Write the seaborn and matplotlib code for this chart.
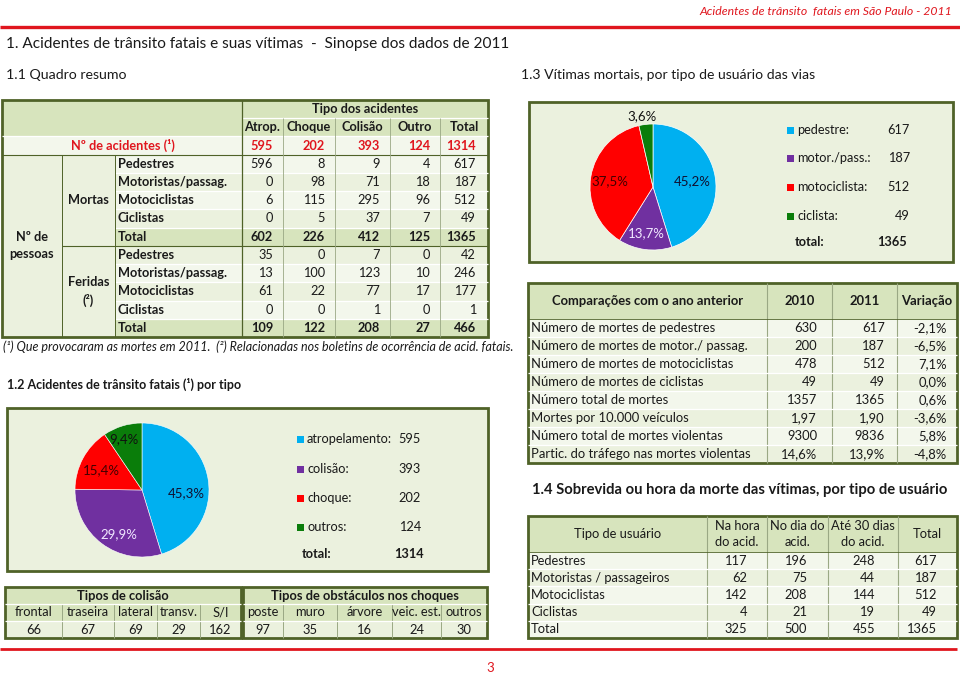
import matplotlib.pyplot as plt
from matplotlib.patches import Rectangle
import seaborn as sns

# ---- 1.1 Quadro resumo ----
tipos_acidente = ['Atrop.', 'Choque', 'Colisão', 'Outro', 'Total']
num_acidentes = [595, 202, 393, 124, 1314]
usuarios_11 = ['Pedestres', 'Motoristas/passag.', 'Motociclistas', 'Ciclistas', 'Total']
mortas = [[596, 8, 9, 4, 617],
          [0, 98, 71, 18, 187],
          [6, 115, 295, 96, 512],
          [0, 5, 37, 7, 49],
          [602, 226, 412, 125, 1365]]
feridas = [[35, 0, 7, 0, 42],
           [13, 100, 123, 10, 246],
           [61, 22, 77, 17, 177],
           [0, 0, 1, 0, 1],
           [109, 122, 208, 27, 466]]

# ---- 1.2 por tipo ----
pie1_labels = ['atropelamento:', 'colisão:', 'choque:', 'outros:']
pie1_values = [595, 393, 202, 124]
colisao_tipos = ['frontal', 'traseira', 'lateral', 'transv.', 'S/I']
colisao_vals = [66, 67, 69, 29, 162]
obstaculos = ['poste', 'muro', 'árvore', 'veic. est.', 'outros']
obstaculos_vals = [97, 35, 16, 24, 30]

# ---- 1.3 vitimas por usuario ----
pie2_labels = ['pedestre:', 'motor./pass.:', 'motociclista:', 'ciclista:']
pie2_values = [617, 187, 512, 49]

comp_labels = ['Número de mortes de pedestres', 'Número de mortes de motor./ passag.',
               'Número de mortes de motociclistas', 'Número de mortes de ciclistas',
               'Número total de mortes', 'Mortes por 10.000 veículos',
               'Número total de mortes violentas', 'Partic. do tráfego nas mortes violentas']
comp_2010 = ['630', '200', '478', '49', '1357', '1,97', '9300', '14,6%']
comp_2011 = ['617', '187', '512', '49', '1365', '1,90', '9836', '13,9%']
comp_var = ['-2,1%', '-6,5%', '7,1%', '0,0%', '0,6%', '-3,6%', '5,8%', '-4,8%']

# ---- 1.4 sobrevida ----
usuarios_14 = ['Pedestres', 'Motoristas / passageiros', 'Motociclistas', 'Ciclistas', 'Total']
sobrevida_cols = ['Na hora\ndo acid.', 'No dia do\nacid.', 'Até 30 dias\ndo acid.', 'Total']
na_hora = [117, 62, 142, 4, 325]
no_dia = [196, 75, 208, 21, 500]
ate_30 = [248, 44, 144, 19, 455]
total_14 = [617, 187, 512, 49, 1365]

pie_colors = sns.color_palette(['#00b0f0', '#7030a0', '#ff0000', '#0a7d0a'])
pie2_colors = [pie_colors[0], pie_colors[1], pie_colors[2], pie_colors[3]]

sns.set_theme(style='white')
plt.rcParams['font.family'] = ['Lato', 'DejaVu Sans']

W, H = 960, 674
fig = plt.figure(figsize=(W / 100, H / 100), dpi=100)
ax = fig.add_axes([0, 0, 1, 1])
ax.set_xlim(0, W)
ax.set_ylim(H, 0)
ax.axis('off')

OLIVE = '#4f6228'
HEAD = '#d7e4bd'
LIGHT = '#ebf1de'
PALE = '#f3f7ec'
RED = '#e0161e'
TXT = '#1a1a1a'
GRID = '#9aa884'
FS = 9.2


def cell(x0, x1, y0, y1, fc, ec='none', lw=0):
    ax.add_patch(Rectangle((x0, y0), x1 - x0, y1 - y0, facecolor=fc, edgecolor=ec, linewidth=lw))


def txt(x, y, s, size=FS, ha='center', weight='normal', color=TXT, style='normal', ls=1.1):
    ax.text(x, y, s, fontsize=size, ha=ha, va='center', fontweight=weight,
            color=color, fontstyle=style, linespacing=ls)


def hline(x0, x1, y, c=OLIVE, lw=0.8):
    ax.plot([x0, x1], [y, y], color=c, lw=lw, solid_capstyle='butt')


def vline(x, y0, y1, c=OLIVE, lw=0.8):
    ax.plot([x, x], [y0, y1], color=c, lw=lw, solid_capstyle='butt')


# header / titles
txt(952, 12, 'Acidentes de trânsito  fatais em São Paulo - 2011', size=8.8, ha='right',
    color=RED, style='italic')
hline(0, W, 27, RED, 2.4)
txt(6, 44, '1. Acidentes de trânsito fatais e suas vítimas  -  Sinopse dos dados de 2011', size=11.1, ha='left')
txt(6, 75, '1.1 Quadro resumo', size=10.2, ha='left')
txt(521, 75, '1.3 Vítimas mortais, por tipo de usuário das vias', size=10.1, ha='left')

# ---------- table 1.1 ----------
xe = [2, 62, 115, 242, 283, 335, 390, 440, 488]
rh = (337 - 100) / 13
ye = [100 + i * rh for i in range(14)]
cell(2, 488, ye[0], ye[2], HEAD)
cell(2, 488, ye[2], ye[3], PALE)
cell(2, 115, ye[3], ye[13], LIGHT)
for i in range(10):
    r = 3 + i
    fc = HEAD if i % 5 == 4 else (PALE if i % 2 == 0 else LIGHT)
    cell(115, 488, ye[r], ye[r + 1], fc)

txt((xe[3] + xe[8]) / 2, (ye[0] + ye[1]) / 2, 'Tipo dos acidentes', weight='bold')
for c, t in enumerate(tipos_acidente):
    txt((xe[3 + c] + xe[4 + c]) / 2, (ye[1] + ye[2]) / 2, t, weight='bold')
txt(123, (ye[2] + ye[3]) / 2, 'Nº de acidentes (¹)', weight='bold', color=RED)
for c, v in enumerate(num_acidentes):
    txt(xe[4 + c] - (12 if c == 4 else 10), (ye[2] + ye[3]) / 2, str(v), ha='right', weight='bold', color=RED)

for g, block in enumerate([mortas, feridas]):
    for i, row in enumerate(block):
        r = 3 + g * 5 + i
        yc = (ye[r] + ye[r + 1]) / 2
        w = 'bold' if i == 4 else 'normal'
        txt(118, yc, usuarios_11[i], ha='left', weight='bold')
        for c, v in enumerate(row):
            txt(xe[4 + c] - (12 if c == 4 else 10), yc, str(v), ha='right', weight=w)
txt(88.5, (ye[3] + ye[8]) / 2, 'Mortas', weight='bold')
txt(88.5, (ye[8] + ye[13]) / 2, 'Feridas\n(²)', weight='bold', ls=1.5)
txt(32, (ye[3] + ye[13]) / 2, 'Nº de\npessoas', weight='bold', ls=1.5)

for r in range(4, 13):
    if r != 8:
        hline(115, 488, ye[r], 'white', 0.9)
hline(242, 488, ye[1], 'white', 0.9)
hline(2, 488, ye[2], 'white', 0.9)
hline(2, 488, ye[3], OLIVE, 0.8)
hline(62, 488, ye[8], OLIVE, 0.8)
vline(62, ye[3], ye[13], OLIVE, 0.7)
vline(115, ye[3], ye[13], OLIVE, 0.7)
vline(242, ye[0], ye[13], OLIVE, 0.9)
for x in xe[4:8]:
    vline(x, ye[1], ye[13], GRID, 0.6)
cell(2, 488, ye[0], ye[13], 'none', OLIVE, 2)

txt(3, 347, '(¹) Que provocaram as mortes em 2011.  (²) Relacionadas nos boletins de ocorrência de acid. fatais.',
    size=9.0, ha='left', style='italic')

# ---------- 1.2 ----------
txt(7, 384, '1.2 Acidentes de trânsito fatais (¹) por tipo', size=9.0, ha='left', weight='bold')
cell(7, 488, 408, 571, LIGHT, OLIVE, 2)


def pie_axes(cx, cy, r):
    pa = fig.add_axes([(cx - r) / W, 1 - (cy + r) / H, 2 * r / W, 2 * r / H])
    pa.set_facecolor('none')
    return pa


def fmt(p):
    return f'{p:.1f}%'.replace('.', ',')


pa1 = pie_axes(142, 490, 67)
w1, t1, a1 = pa1.pie(pie1_values, colors=pie_colors, startangle=90, counterclock=False,
                     autopct=fmt, wedgeprops=dict(edgecolor='white', linewidth=0.4))
pos1 = [(0.66, -0.04), (-0.34, -0.66), (-0.61, 0.30), (-0.27, 0.76)]
col1 = ['#101030', '#f0e8ff', '#400000', '#101010']
for t, p, c in zip(a1, pos1, col1):
    t.set_position(p)
    t.set_color(c)
    t.set_fontsize(9.5)
pa1.set_xlim(-1, 1)
pa1.set_ylim(-1, 1)
pa1.axis('off')

leg1_y = [439, 469, 498, 527]
for i, (lab, v) in enumerate(zip(pie1_labels, pie1_values)):
    cell(297, 304, leg1_y[i] - 3.5, leg1_y[i] + 3.5, pie_colors[i])
    txt(307, leg1_y[i], lab, size=9.2, ha='left')
    txt(421, leg1_y[i], str(v), size=9.2, ha='right')
txt(302, 554, 'total:', size=9.2, ha='left', weight='bold')
txt(424, 554, str(sum(pie1_values)), size=9.2, ha='right', weight='bold')

# collision / obstacle table
ty = [587, 604, 621, 638]
for xs, title, names, vals in [([5, 62, 114, 157, 200, 241], 'Tipos de colisão', colisao_tipos, colisao_vals),
                               ([243, 283, 337, 392, 441, 487], 'Tipos de obstáculos nos choques', obstaculos, obstaculos_vals)]:
    cell(xs[0], xs[-1], ty[0], ty[2], HEAD)
    cell(xs[0], xs[-1], ty[2], ty[3], LIGHT)
    txt((xs[0] + xs[-1]) / 2, (ty[0] + ty[1]) / 2, title, size=9.3, weight='bold')
    for c in range(5):
        xc = (xs[c] + xs[c + 1]) / 2
        txt(xc, (ty[1] + ty[2]) / 2, names[c], size=9.3)
        txt(xc, (ty[2] + ty[3]) / 2, str(vals[c]), size=9.3)
    for x in xs[1:-1]:
        vline(x, ty[1], ty[3], GRID, 0.7)
    hline(xs[0], xs[-1], ty[1], 'white', 0.9)
    hline(xs[0], xs[-1], ty[2], 'white', 0.9)
    cell(xs[0], xs[-1], ty[0], ty[3], 'none', OLIVE, 2)

hline(0, 957, 649, RED, 2)
txt(490, 668, '3', size=9.5, color=RED)

# ---------- 1.3 pie ----------
cell(529, 953, 102, 262, LIGHT, OLIVE, 2)
pa2 = pie_axes(653, 187, 63)
w2, t2, a2 = pa2.pie(pie2_values, colors=pie2_colors, startangle=90, counterclock=False,
                     autopct=fmt, wedgeprops=dict(edgecolor='white', linewidth=0.5))
pos2 = [(0.63, 0.10), (-0.10, -0.73), (-0.68, 0.10), (-0.17, 1.13)]
col2 = ['#101030', '#f0e8ff', '#400000', '#101010']
for t, p, c in zip(a2, pos2, col2):
    t.set_position(p)
    t.set_color(c)
    t.set_fontsize(9.5)
pa2.set_xlim(-1, 1)
pa2.set_ylim(-1, 1)
pa2.axis('off')

leg2_y = [130, 158, 187, 216]
for i, (lab, v) in enumerate(zip(pie2_labels, pie2_values)):
    cell(787, 794, leg2_y[i] - 3.5, leg2_y[i] + 3.5, pie2_colors[i])
    txt(797, leg2_y[i], lab, size=9.2, ha='left')
    txt(910, leg2_y[i], str(v), size=9.2, ha='right')
txt(795, 242, 'total:', size=9.2, ha='left', weight='bold')
txt(907, 242, str(sum(pie2_values)), size=9.2, ha='right', weight='bold')

# ---------- comparison table ----------
cx = [528, 767, 832, 897, 957]
cy = [283, 319] + [319 + 18 * (i + 1) for i in range(8)]
cell(528, 957, cy[0], cy[1], HEAD)
for i in range(8):
    cell(528, 957, cy[1 + i], cy[2 + i], PALE if i % 2 == 0 else LIGHT)
for j, h in enumerate(['Comparações com o ano anterior', '2010', '2011', 'Variação']):
    txt((cx[j] + cx[j + 1]) / 2, (cy[0] + cy[1]) / 2, h, size=9.4, weight='bold')
for i in range(8):
    yc = (cy[1 + i] + cy[2 + i]) / 2
    txt(531, yc, comp_labels[i], size=9.4, ha='left')
    txt(817, yc, comp_2010[i], size=9.4, ha='right')
    txt(885, yc, comp_2011[i], size=9.4, ha='right')
    txt(947, yc, comp_var[i], size=9.4, ha='right')
for x in cx[1:-1]:
    vline(x, cy[0], cy[-1], GRID, 0.8)
for y in cy[2:-1]:
    hline(528, 957, y, 'white', 0.9)
hline(528, 957, cy[1], OLIVE, 0.6)
cell(528, 957, cy[0], cy[-1], 'none', OLIVE, 2)

# ---------- 1.4 ----------
txt(532, 490, '1.4 Sobrevida ou hora da morte das vítimas, por tipo de usuário', size=10.6, ha='left', weight='bold')
sx = [528, 707, 767, 828, 898, 957]
rh4 = (638 - 552) / 5
sy = [516, 552] + [552 + rh4 * (i + 1) for i in range(5)]
cell(528, 957, sy[0], sy[1], HEAD)
for i in range(5):
    cell(528, 957, sy[1 + i], sy[2 + i], PALE if i % 2 == 0 else LIGHT)
txt((sx[0] + sx[1]) / 2, (sy[0] + sy[1]) / 2, 'Tipo de usuário', size=9.3)
for j, h in enumerate(sobrevida_cols):
    txt((sx[1 + j] + sx[2 + j]) / 2, (sy[0] + sy[1]) / 2, h, size=9.3, ls=1.4)
right4 = [747, 807, 875, 937]
for i in range(5):
    yc = (sy[1 + i] + sy[2 + i]) / 2
    txt(531, yc, usuarios_14[i], size=9.3, ha='left')
    for j, col in enumerate([na_hora, no_dia, ate_30, total_14]):
        txt(right4[j], yc, str(col[i]), size=9.3, ha='right')
for x in sx[1:-1]:
    vline(x, sy[0], sy[-1], GRID, 0.8)
for y in sy[2:-1]:
    hline(528, 957, y, 'white', 0.9)
hline(528, 957, sy[1], OLIVE, 0.6)
cell(528, 957, sy[0], sy[-1], 'none', OLIVE, 2)

fig.savefig('out.png', dpi=100, facecolor='white')
